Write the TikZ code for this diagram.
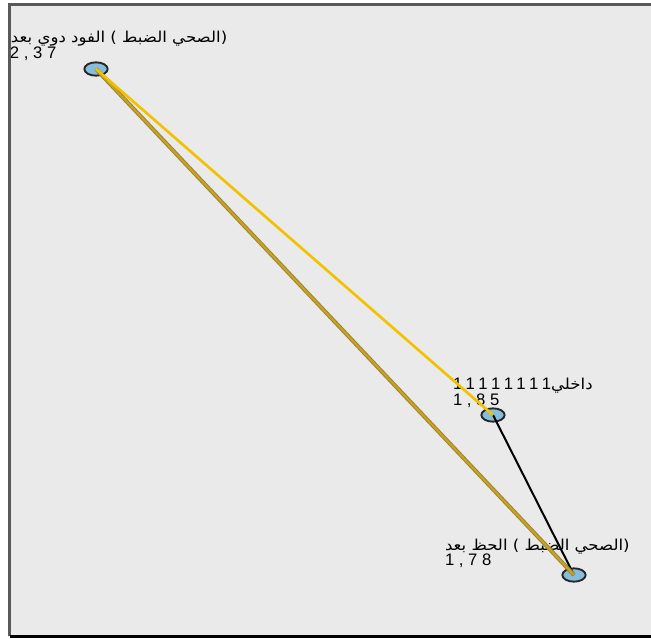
\documentclass[tikz,border=0pt]{standalone}
\usepackage{fontspec}
\usetikzlibrary{shapes.geometric}
\setmainfont{Liberation Sans}
\newfontfamily\arabicfont[Script=Arabic, FakeStretch=1.1]{DejaVu Sans}
\newfontfamily\digitfont[LetterSpace=28]{Liberation Sans}
\TeXXeTstate=1
\definecolor{panelgray}{HTML}{EAEAEA}
\definecolor{pointblue}{HTML}{86BCDD}
\definecolor{lineyellow}{HTML}{F2C200}
\definecolor{linegold}{HTML}{C4A22C}
\begin{document}
\begin{tikzpicture}[x=0.75pt, y=-0.75pt,
  every node/.style={inner sep=0pt, outer sep=0pt},
  pt/.style={ellipse, draw=black!85, line width=1.4pt, fill=pointblue,
    minimum width=17.5pt, minimum height=10pt},
  lbl/.style={anchor=base west, font=\arabicfont\fontsize{11.3}{12}\selectfont},
  val/.style={anchor=base west, font=\digitfont\fontsize{12.5}{13}\selectfont}]
  \useasboundingbox (0,0) rectangle (651,639);
  \fill[white] (0,0) rectangle (651,639);
  \fill[panelgray] (9.5,4.5) rectangle (680,636);
  % points
  \node[pt] (A) at (96,69) {};
  \node[pt] (B) at (493,415) {};
  \node[pt] (C) at (574,575) {};
  % labels
  \node[lbl] (la) at (11,42) {\beginR (الصحي الضبط ) الفود دوي بعد\endR};
  \node[val] (va) at (10,59) {2,37};
  \node[lbl] (lb) at (453,389) {\beginR داخلي\beginL{\digitfont\fontsize{12.5}{13}\selectfont 11111111}\endL\endR};
  \node[val] (vb) at (453,405) {1,85};
  \node[lbl] (lc) at (445,550) {\beginR (الصحي الضبط ) الحظ بعد\endR};
  \node[val] (vc) at (445,565) {1,78};
  % links
  \draw[black, line width=1.5pt] (B.center) -- (C.center);
  \draw[linegold!80!black, line width=3pt] (A.center) -- (C.center);
  \draw[linegold, line width=1.6pt] (A.center) -- (C.center);
  \draw[lineyellow, line width=2pt] (A.center) -- (B.center);
  % frame
  \draw[black!65, line width=1.6pt] (9.5,636) -- (9.5,4.5) -- (680,4.5);
  \draw[black, line width=1.6pt] (9.5,636.5) -- (651,636.5);
\end{tikzpicture}
\end{document}
